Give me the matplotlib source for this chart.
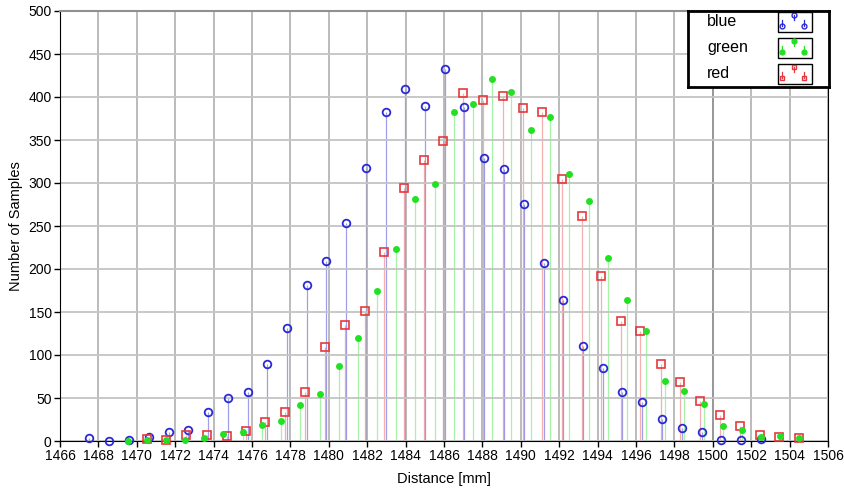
import matplotlib
matplotlib.use("Agg")
import matplotlib.pyplot as plt
from matplotlib.patches import Rectangle

plt.rcParams['font.family'] = ['Liberation Sans Narrow', 'Liberation Sans', 'DejaVu Sans']

# blue series (distance mm, samples)
blue_x = [1467.53, 1468.55, 1469.59, 1470.62, 1471.66, 1472.68, 1473.71, 1474.73,
          1475.78, 1476.80, 1477.84, 1478.85, 1479.87, 1480.91, 1481.94, 1482.96,
          1483.98, 1485.01, 1486.05, 1487.06, 1488.08, 1489.13, 1490.15, 1491.19,
          1492.20, 1493.24, 1494.27, 1495.29, 1496.33, 1497.35, 1498.38, 1499.42,
          1500.44, 1501.48, 1502.51]
blue_y = [3, 0, 1, 5, 11, 13, 34, 50, 57, 90, 131, 181, 209, 254, 317, 382,
          409, 389, 433, 388, 329, 316, 275, 207, 164, 110, 85, 57, 45, 26, 15, 11,
          1, 1, 2]

# green series
green_x = [1469.56, 1470.52, 1471.52, 1472.51, 1473.50, 1474.51, 1475.52, 1476.52,
           1477.51, 1478.52, 1479.53, 1480.52, 1481.51, 1482.51, 1483.50, 1484.50,
           1485.52, 1486.51, 1487.51, 1488.50, 1489.51, 1490.52, 1491.52, 1492.53,
           1493.54, 1494.53, 1495.53, 1496.50, 1497.51, 1498.52, 1499.53, 1500.52,
           1501.50, 1502.51, 1503.50, 1504.50]
green_y = [0, 1, 1, 1, 3, 8, 10, 19, 23, 42, 55, 87, 120, 175, 223, 281,
           299, 382, 392, 421, 406, 362, 377, 311, 279, 213, 164, 128, 70, 58, 43, 18,
           13, 5, 6, 3]

# red series
red_x = [1470.55, 1471.52, 1472.55, 1473.64, 1474.68, 1475.67, 1476.69, 1477.73,
         1478.76, 1479.82, 1480.84, 1481.87, 1482.89, 1483.92, 1484.94, 1485.96,
         1486.99, 1488.02, 1489.06, 1490.10, 1491.12, 1492.15, 1493.17, 1494.19,
         1495.23, 1496.22, 1497.29, 1498.31, 1499.33, 1500.38, 1501.42, 1502.44,
         1503.46, 1504.49]
red_y = [2, 1, 7, 7, 6, 12, 22, 34, 57, 109, 135, 151, 220, 294, 327, 349,
         405, 397, 401, 387, 382, 305, 262, 192, 139, 128, 89, 69, 47, 30, 18, 7,
         5, 3]

c_blue = '#2a2ad6'
c_green = '#22e022'
c_red = '#e6383c'

fig = plt.figure(figsize=(8.45, 4.9), dpi=100)
ax = fig.add_axes([60 / 845, 49 / 490, 768 / 845, 430 / 490])

ax.set_xlim(1466, 1506)
ax.set_ylim(0, 500)
ax.set_xticks(range(1466, 1507, 2))
ax.set_yticks(range(0, 501, 50))
ax.tick_params(labelsize=10, length=4, width=1, pad=2)

ax.grid(True, axis='x', color='#a8a8a8', lw=1.1, zorder=0)
ax.grid(True, axis='y', color='#c4c4c4', lw=1.3, zorder=0)
ax.axvline(1500, color='#404040', lw=1.1, zorder=0.5)
ax.spines['top'].set_color('#909090')
ax.spines['top'].set_linewidth(1.5)

# stems
ax.vlines(blue_x, 0, blue_y, colors=c_blue, lw=0.9, alpha=0.45, zorder=1)
ax.vlines(red_x, 0, red_y, colors=c_red, lw=0.9, alpha=0.4, zorder=1)
ax.vlines(green_x, 0, green_y, colors=c_green, lw=0.9, alpha=0.4, zorder=1)

# markers
ax.plot(blue_x, blue_y, 'o', ls='none', ms=5.5, mfc='none', mec=c_blue, mew=1.3, zorder=3, clip_on=False)
ax.plot(red_x, red_y, 's', ls='none', ms=6, mfc='none', mec=c_red, mew=1.2, zorder=3, clip_on=False)
ax.plot(green_x, green_y, 'o', ls='none', ms=5, mfc=c_green, mec=c_green, mew=0, zorder=4, clip_on=False)

ax.set_xlabel('Distance [mm]', fontsize=10.5, labelpad=6)
ax.set_ylabel('Number of Samples', fontsize=10.5, labelpad=4)

# legend box drawn by hand
lg = fig.add_axes([688 / 845, (490 - 87) / 490, 141 / 845, 76 / 490])
lg.set_xlim(0, 141)
lg.set_ylim(76, 0)
lg.set_xticks([])
lg.set_yticks([])
for s in lg.spines.values():
    s.set_linewidth(2)
    s.set_color('black')
lg.set_zorder(10)

names = ['blue', 'green', 'red']
cols = [c_blue, c_green, c_red]
mk = [('o', 'none'), ('o', 'full'), ('s', 'none')]
box_top = [1.5, 27.5, 53.5]
for name, col, (m, fill), top in zip(names, cols, mk, box_top):
    lg.text(19, top + 9, name, fontsize=11.5, va='center', ha='left')
    lg.add_patch(Rectangle((90.5, top), 34, 20, fill=False, ec='black', lw=1))
    face = col if fill == 'full' else 'none'
    # small stem icons: left and right markers low, middle marker high
    for dx, my, sy in [(4, top + 14, top + 8), (15.5, top + 3, top + 8), (26, top + 14, top + 8)]:
        lg.plot([90.5 + dx, 90.5 + dx], [my, sy], color=col, lw=0.9)
        lg.plot(90.5 + dx, my, m, ms=3.5, mfc=face, mec=col, mew=1)

fig.savefig('out.png', dpi=100)
